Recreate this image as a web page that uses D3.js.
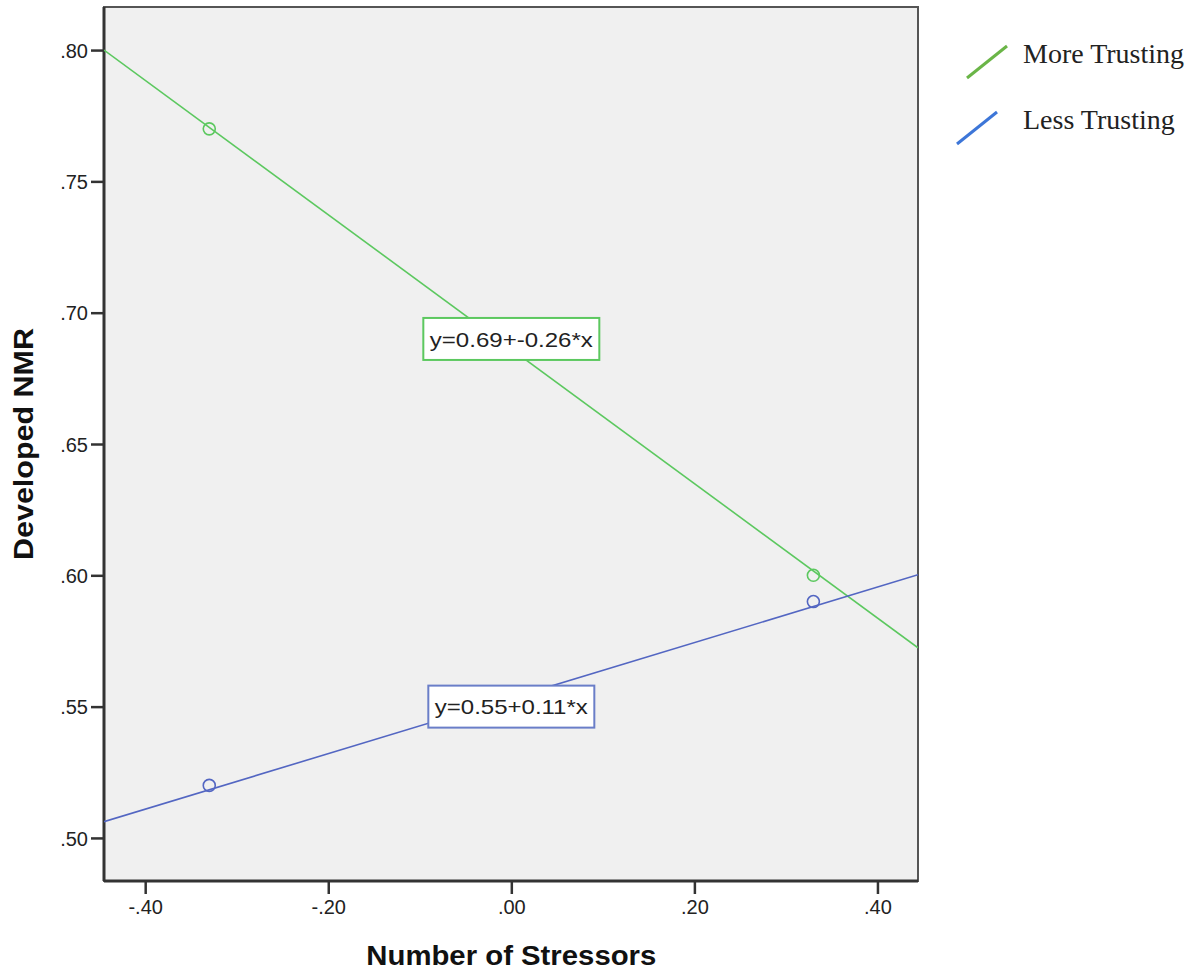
<!DOCTYPE html>
<html><head><meta charset="utf-8">
<script src="https://cdn.jsdelivr.net/npm/d3@7"></script>
<style>body{margin:0;background:#fff}svg{display:block}</style>
</head><body>
<script>
// ---- data ----
const xTicks = [-0.40, -0.20, 0.00, 0.20, 0.40];
const yTicks = [0.50, 0.55, 0.60, 0.65, 0.70, 0.75, 0.80];
const groups = ["More Trusting", "Less Trusting"];
const pointX = [-0.33, 0.33];
const moreTrustingY = [0.77, 0.60];
const lessTrustingY = [0.52, 0.59];
// fit line values at the left and right edges of the x domain
const moreTrustingFit = [0.800, 0.5724];
const lessTrustingFit = [0.5062, 0.6002];
const equations = ["y=0.69+-0.26*x", "y=0.55+0.11*x"];
const eqIntercepts = [0.69, 0.55];
const xDomain = [-0.445, 0.4443];
const yDomain = [0.4836, 0.8164];

const W = 1197, H = 974;
const plot = {left: 104, right: 918, top: 7, bottom: 881};
const lineColors = ["#5cc85f", "#5366c2"];
const legendColors = ["#6ab547", "#3d76d8"];
const boxColors = ["#5cc85f", "#6a7ec8"];

const svg = d3.select("body").append("svg").attr("width", W).attr("height", H);
const x = d3.scaleLinear().domain(xDomain).range([plot.left, plot.right]);
const y = d3.scaleLinear().domain(yDomain).range([plot.bottom, plot.top]);

svg.append("rect").attr("x", plot.left).attr("y", plot.top)
  .attr("width", plot.right - plot.left).attr("height", plot.bottom - plot.top)
  .attr("fill", "#f0f0f0");

const fmt = v => { const s = Math.abs(v).toFixed(2).replace(/^0/, ""); return (v < -1e-9 ? "-" : "") + s; };

const gx = svg.append("g").attr("transform", `translate(0,${plot.bottom})`)
  .call(d3.axisBottom(x).tickValues(xTicks).tickFormat(fmt).tickSize(13).tickSizeOuter(0).tickPadding(6));
const gy = svg.append("g").attr("transform", `translate(${plot.left},0)`)
  .call(d3.axisLeft(y).tickValues(yTicks).tickFormat(fmt).tickSize(13).tickSizeOuter(0).tickPadding(3));
[gx, gy].forEach(g => {
  g.select(".domain").remove();
  g.selectAll(".tick line").attr("stroke", "#333").attr("stroke-width", 2.5);
  g.selectAll(".tick text").attr("font-family", "Liberation Sans, Arial, sans-serif")
    .attr("font-size", 20).attr("fill", "#222");
});
gy.selectAll(".tick text").attr("dy", "0.36em");

// frame
svg.append("rect").attr("x", plot.left).attr("y", plot.top)
  .attr("width", plot.right - plot.left).attr("height", plot.bottom - plot.top)
  .attr("fill", "none").attr("stroke", "#555").attr("stroke-width", 2);
svg.append("line").attr("x1", plot.left).attr("x2", plot.left).attr("y1", plot.top).attr("y2", plot.bottom)
  .attr("stroke", "#333").attr("stroke-width", 3);
svg.append("line").attr("x1", plot.left).attr("x2", plot.right).attr("y1", plot.bottom).attr("y2", plot.bottom)
  .attr("stroke", "#333").attr("stroke-width", 3);

svg.append("clipPath").attr("id", "clip").append("rect")
  .attr("x", plot.left).attr("y", plot.top).attr("width", plot.right - plot.left).attr("height", plot.bottom - plot.top);
const g = svg.append("g").attr("clip-path", "url(#clip)");

const fits = [moreTrustingFit, lessTrustingFit];
const pts = [moreTrustingY, lessTrustingY];
const line = d3.line().x(d => x(d[0])).y(d => y(d[1]));

groups.forEach((name, i) => {
  g.append("path").datum(xDomain.map((xv, k) => [xv, fits[i][k]]))
    .attr("d", line).attr("fill", "none").attr("stroke", lineColors[i]).attr("stroke-width", 1.6);
  g.selectAll(null).data(pointX.map((xv, k) => [xv, pts[i][k]])).enter().append("circle")
    .attr("cx", d => x(d[0])).attr("cy", d => y(d[1])).attr("r", 6)
    .attr("fill", "none").attr("stroke", lineColors[i]).attr("stroke-width", 1.6);
});

// equation labels
groups.forEach((name, i) => {
  const cx = x(0), cy = y(eqIntercepts[i]);
  const lab = svg.append("g");
  const t = lab.append("text").attr("x", cx).attr("y", cy).attr("dy", "0.36em")
    .attr("text-anchor", "middle").attr("font-family", "Liberation Sans, Arial, sans-serif")
    .attr("font-size", 21).attr("fill", "#222").text(equations[i]);
  const tw = i === 0 ? 163 : 153;
  t.attr("textLength", tw).attr("lengthAdjust", "spacingAndGlyphs");
  const bw = tw + 13, bh = 42;
  lab.insert("rect", "text").attr("x", cx - bw / 2).attr("y", cy - bh / 2)
    .attr("width", bw).attr("height", bh).attr("fill", "#fff")
    .attr("stroke", boxColors[i]).attr("stroke-width", 2);
});

// legend
const legY = [63, 129];
const legX0 = [967, 957];
groups.forEach((name, i) => {
  svg.append("line").attr("x1", legX0[i]).attr("y1", legY[i] + 15).attr("x2", legX0[i] + 40).attr("y2", legY[i] - 17)
    .attr("stroke", legendColors[i]).attr("stroke-width", 3);
  svg.append("text").attr("x", 1023).attr("y", legY[i]).attr("font-family", "Liberation Serif, Times New Roman, serif")
    .attr("font-size", 28).attr("fill", "#222").text(name);
});

// axis titles
svg.append("text").attr("x", x(0)).attr("y", 965).attr("text-anchor", "middle")
  .attr("font-family", "Liberation Sans, Arial, sans-serif").attr("font-weight", "bold")
  .attr("font-size", 28).attr("fill", "#111").attr("textLength", 290).attr("lengthAdjust", "spacingAndGlyphs")
  .text("Number of Stressors");
svg.append("text").attr("transform", `translate(33,444) rotate(-90)`).attr("text-anchor", "middle")
  .attr("font-family", "Liberation Sans, Arial, sans-serif").attr("font-weight", "bold")
  .attr("font-size", 28).attr("fill", "#111").attr("textLength", 232).attr("lengthAdjust", "spacingAndGlyphs")
  .text("Developed NMR");
</script>
</body></html>
